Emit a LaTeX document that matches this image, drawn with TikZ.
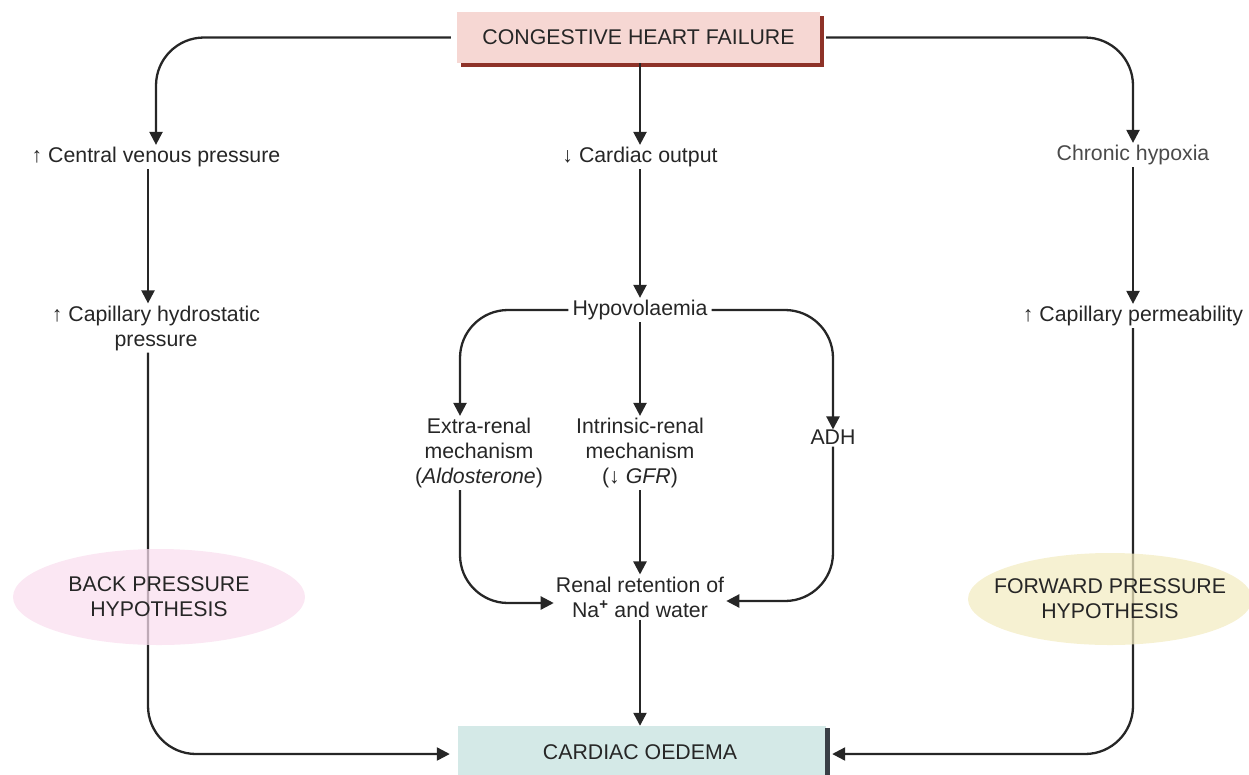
\documentclass[tikz,border=0pt]{standalone}
\usepackage{fontspec}
\setmainfont{Liberation Sans}
\usetikzlibrary{arrows.meta,shapes.geometric,backgrounds}
\definecolor{txt}{HTML}{262626}
\definecolor{greytxt}{HTML}{4A4A4A}
\definecolor{topfill}{HTML}{F6D7D3}
\definecolor{topshadow}{HTML}{8E3228}
\definecolor{botfill}{HTML}{D4E9E7}
\definecolor{botbar}{HTML}{3A3F46}
\definecolor{backfill}{HTML}{F9DEEE}
\definecolor{fwdfill}{HTML}{F3EBC1}
\begin{document}
\begin{tikzpicture}[x=1pt,y=-1pt,
  font=\fontsize{21.3}{25}\selectfont, text=txt,
  lbl/.style={align=center, inner sep=2pt},
  box/.style={minimum height=51pt, inner sep=0pt},
  hypo/.style={ellipse, align=center, fill opacity=0.72, text opacity=1},
  conn/.style={draw=txt, line width=2.3pt, rounded corners=48pt},
  arr/.style={conn, -{Triangle[length=13pt,width=13pt]}}]
\useasboundingbox (0,0) rectangle (1249,774);

% boxes
\node[box, fill=topfill, minimum width=363pt] (chf) at (638.5,37.5) {CONGESTIVE HEART FAILURE};
\begin{scope}[on background layer]
  \fill[topshadow] ([shift={(4,4)}]chf.south west) rectangle ([shift={(4,4)}]chf.north east);
\end{scope}
\node[box, fill=botfill, minimum width=368pt, minimum height=56pt] (oed) at (642,754) {};
\node[inner sep=0pt] (oedtxt) at (640,752) {CARDIAC OEDEMA};
\fill[botbar] (825,728) rectangle (830,780);

% hypothesis ellipses
\node[hypo, inner sep=0pt, fill=backfill, minimum width=292pt, minimum height=96pt] (backell) at (159,597) {BACK PRESSURE\\HYPOTHESIS};
\node[hypo, inner sep=-17pt, fill=fwdfill, minimum width=284pt, minimum height=92pt] (fwdell) at (1110,599) {FORWARD PRESSURE\\HYPOTHESIS};

% text nodes
\node[lbl] (cvp) at (156,157) {↑ Central venous pressure};
\node[lbl] (co)  at (640,157) {↓ Cardiac output};
\node[lbl, text=greytxt] (hyp) at (1133,155) {Chronic hypoxia};
\node[lbl] (chp) at (156,328) {↑ Capillary hydrostatic\\pressure};
\node[lbl] (hvol) at (640,310) {Hypovolaemia};
\node[lbl] (cperm) at (1133,316) {↑ Capillary permeability};
\node[lbl] (extra) at (479,453) {Extra-renal\\mechanism\\(\textit{Aldosterone})};
\node[lbl] (intr) at (640,453) {Intrinsic-renal\\mechanism\\(↓ \textit{GFR})};
\node[lbl] (adh) at (833,437) {ADH};
\node[lbl] (renal) at (640,597) {Renal retention of\\Na\textsuperscript{\textbf{+}} and water};

% connectors
\draw[arr] ([xshift=-6pt]chf.west) -| (cvp.north);
\draw[arr] (co |- chf.south) -- (co.north);
\draw[arr] ([xshift=6pt]chf.east) -| (hyp.north);
\draw[arr] ([xshift=-8pt]cvp.south) -- ([xshift=-8pt]chp.north);
\draw[arr] (co.south) -- (hvol.north);
\draw[arr] (hyp.south) -- (cperm.north);

\draw[arr] ([xshift=-2pt]hvol.west) -| ([xshift=-19pt]extra.north);
\draw[arr] (hvol.south) -- (intr.north);
\draw[arr] ([xshift=2pt]hvol.east) -| ([yshift=-2pt]adh.north);

\draw[arr] ([xshift=-19pt]extra.south) |- ([yshift=-6pt]renal.west);
\draw[arr] (intr.south) -- (renal.north);
\draw[arr] (adh.south) |- ([yshift=-4pt]renal.east);
\draw[arr] (renal.south) -- (oedtxt |- oed.north);

% long side connectors (under the hypothesis ellipses)
\begin{scope}[on background layer]
\draw[arr] ([xshift=-8pt]chp.south) |- ([xshift=-8pt]oed.west);
\draw[arr] (cperm.south) |- ([xshift=6pt]oed.east);
\end{scope}
\end{tikzpicture}
\end{document}
